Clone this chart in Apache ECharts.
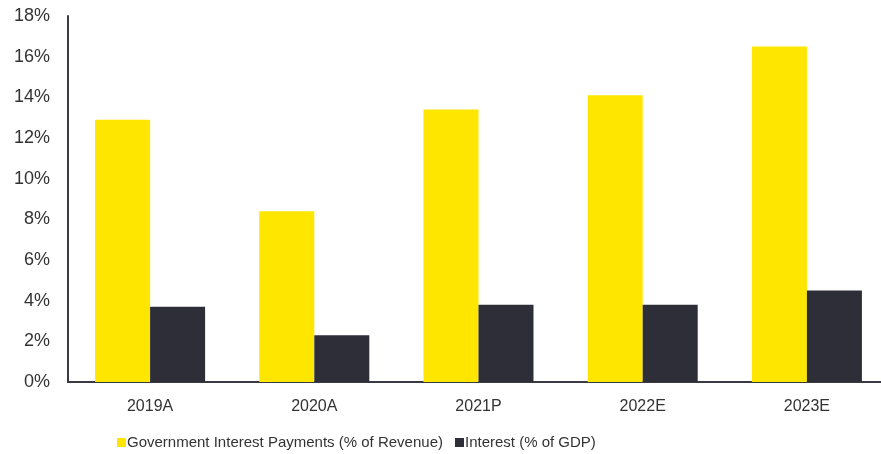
<!DOCTYPE html>
<html><head><meta charset="utf-8">
<script src="https://cdn.jsdelivr.net/npm/echarts@6/dist/echarts.min.js"></script>
<style>html,body{margin:0;padding:0;background:#fff}#c{width:881px;height:454px}</style>
</head><body><div id="c"></div>
<script>
const categories = ['2019A','2020A','2021P','2022E','2023E'];
const revenueShare = [12.9, 8.4, 13.4, 14.1, 16.5];
const gdpShare = [3.7, 2.3, 3.8, 3.8, 4.5];
const seriesNames = ['Government Interest Payments (% of Revenue)','Interest (% of GDP)'];

const chart = echarts.init(document.getElementById('c'));
const font = '"Liberation Sans", Arial, sans-serif';
chart.setOption({
  animation:false,
  grid:{left:68,width:821,top:16,bottom:72,outerBoundsMode:'none',containLabel:false},
  legend:{
    top:430,left:112,itemWidth:9,itemHeight:9,itemGap:12,icon:'rect',
    textStyle:{fontFamily:font,fontSize:15,color:'#333',padding:[0,0,0,-4]},
    data:seriesNames
  },
  xAxis:{
    type:'category',data:categories,
    axisLine:{lineStyle:{color:'#3a3a44',width:2}},
    axisTick:{show:false},
    axisLabel:{fontFamily:font,fontSize:16,color:'#333',margin:17}
  },
  yAxis:{
    type:'value',min:0,max:18,interval:2,
    axisLine:{show:true,lineStyle:{color:'#3a3a44',width:2}},
    axisTick:{show:false},splitLine:{show:false},
    axisLabel:{fontFamily:font,fontSize:18,color:'#333',margin:18,formatter:'{value}%'}
  },
  series:[
    {name:seriesNames[0],type:'bar',data:revenueShare,barGap:'0%',barCategoryGap:'33%',itemStyle:{color:'#FFE600'}},
    {name:seriesNames[1],type:'bar',data:gdpShare,itemStyle:{color:'#2E2E38'}}
  ]
});
</script></body></html>
